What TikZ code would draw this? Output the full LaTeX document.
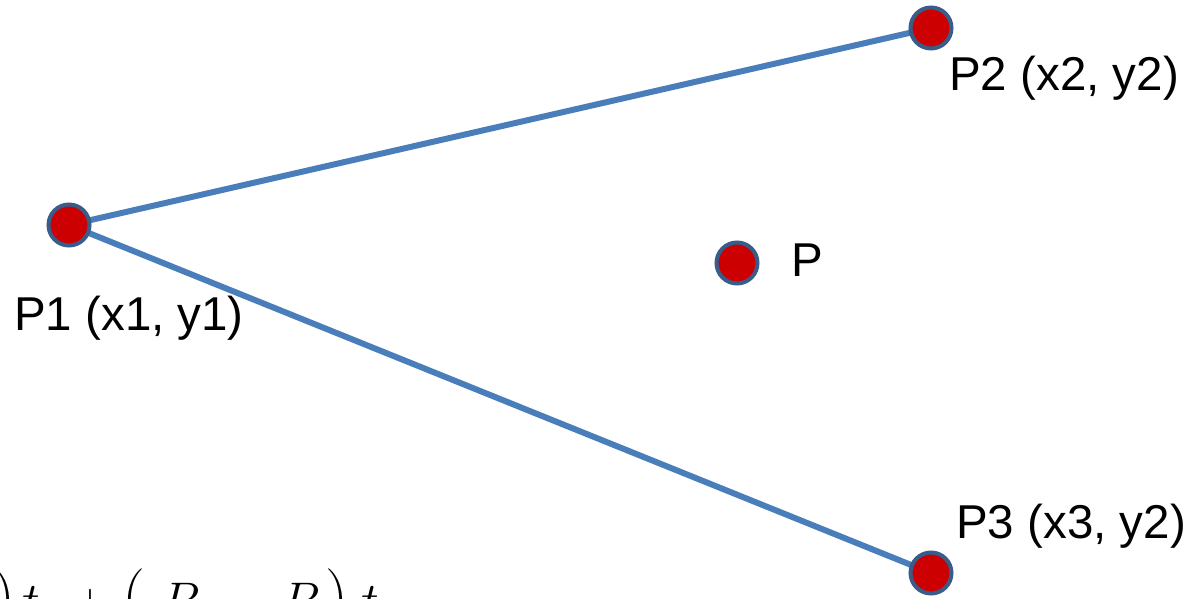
\RequirePackage{fix-cm}
\documentclass[tikz,border=0pt]{standalone}
\usepackage{fontspec}
\setmainfont{Liberation Sans}
\usetikzlibrary{backgrounds}
\definecolor{linkblue}{RGB}{74,126,187}
\definecolor{rimblue}{RGB}{56,93,138}
\definecolor{dotred}{RGB}{204,0,0}
\begin{document}
\begin{tikzpicture}[x=1pt,y=1pt,
  dot/.style={circle,draw=rimblue,fill=dotred,line width=4pt,minimum size=41pt,inner sep=0pt},
  link/.style={draw=linkblue,line width=6pt},
  lbl/.style={anchor=base west,inner sep=0pt,font=\fontsize{47.5}{52}\selectfont},
  eqg/.style={anchor=base west,inner sep=0pt,font=\fontsize{50}{55}\selectfont},
  eqp/.style={anchor=base west,inner sep=0pt,font=\fontsize{65}{70}\selectfont}]
\useasboundingbox (0,0) rectangle (1192,598);
\node[dot] (p1) at (69,373) {};
\node[dot] (p2) at (931,570) {};
\node[dot] (p) at (737,335) {};
\node[dot] (p3) at (931,25) {};
\begin{pgfonlayer}{background}
\draw[link] (p1.center) -- (p2.center);
\draw[link] (p1.center) -- (p3.center);
\end{pgfonlayer}
\node[lbl] (l1) at (14,267) {P1 (x1, y1)};
\node[lbl] (l2) at (949,507) {P2 (x2, y2)};
\node[lbl] (l3) at (956,60) {P3 (x3, y2)};
\node[lbl] (lp) at (791,321) {P};
\begin{scope}
\clip (0,0) rectangle (1192,598);
\node[eqp] (e1) at (-7.5,-19) {$)$};
\node[eqg] (e2) at (22,-19) {$t$};
\node[eqg] (e3) at (72,-19) {$+$};
\node[eqp] (e4) at (122,-19) {$($};
\node[eqg] (e5) at (161,-19) {$P_3$};
\node[eqg] (e6) at (230,-19) {$-$};
\node[eqg] (e7) at (281,-19) {$P_1$};
\node[eqp] (e8) at (325.5,-19) {$)$};
\node[eqg] (e9) at (361,-19) {$t$};
\end{scope}
\end{tikzpicture}
\end{document}
